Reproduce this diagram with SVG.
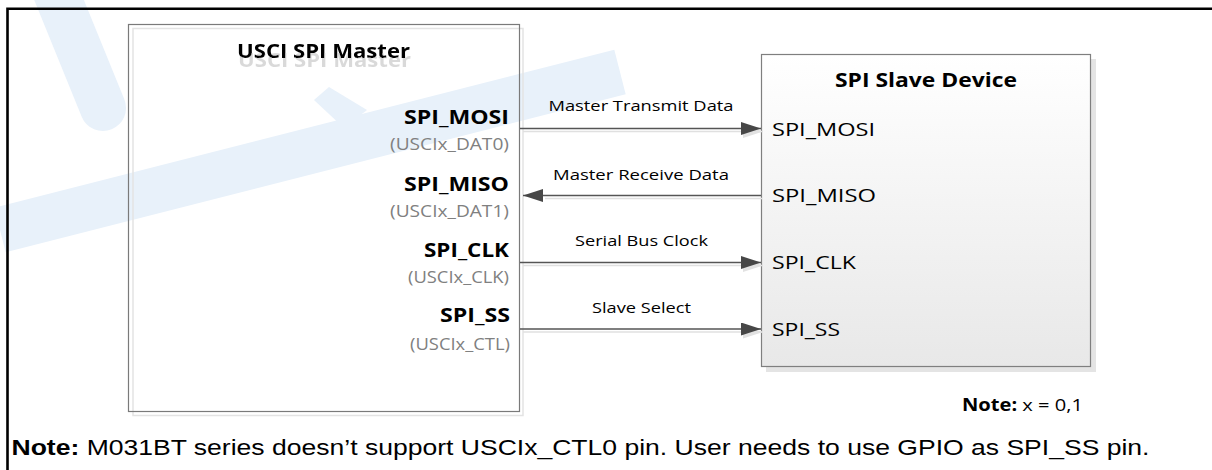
<svg xmlns="http://www.w3.org/2000/svg" width="1212" height="470" viewBox="0 0 1212 470">
<defs>
  <linearGradient id="slaveFill" x1="0" y1="0" x2="0" y2="1">
    <stop offset="0" stop-color="#ffffff"/>
    <stop offset="1" stop-color="#e8e8e8"/>
  </linearGradient>
  <marker id="ah" markerWidth="20" markerHeight="13" refX="20" refY="6.5" orient="auto" markerUnits="userSpaceOnUse">
    <path d="M0,0 L20,6.5 L0,13 Z" fill="#474747"/>
  </marker>
  <marker id="ahs" markerWidth="20" markerHeight="13" refX="20" refY="6.5" orient="auto" markerUnits="userSpaceOnUse">
    <path d="M0,0 L20,6.5 L0,13 Z" fill="#e2e2e2"/>
  </marker>
  <filter id="ghost" x="-10%" y="-30%" width="120%" height="200%">
    <feOffset in="SourceAlpha" dx="1" dy="9" result="o"/>
    <feFlood flood-color="#d9d9d9"/>
    <feComposite in2="o" operator="in" result="s"/>
    <feMerge><feMergeNode in="s"/><feMergeNode in="SourceGraphic"/></feMerge>
  </filter>
</defs>
<style>
  .cal { font-family: "Open Sans", "Noto Sans", sans-serif; }
  .title { font-size: 20px; font-weight: 700; fill: #000; }
  .pin { font-size: 19px; font-weight: 700; fill: #000; }
  .sub { font-size: 15.5px; fill: #808080; }
  .sig { font-size: 15px; fill: #000; }
  .spin { font-size: 19px; fill: #000; }
  .wire { stroke: #555555; stroke-width: 1.3; fill: none; }
  .wsh { stroke: #e0e0e0; stroke-width: 1.5; fill: none; }
  .ari { font-family: "Liberation Sans", Arial, sans-serif; }
  .wm { stroke: #e8f1fa; fill: none; }
</style>
<rect x="0" y="0" width="1212" height="470" fill="#ffffff"/>

<!-- faint background watermark -->
<g id="watermark">
  <path class="wm" d="M55,-10 L103,108" stroke-width="46" stroke-linecap="round"/>
  <path class="wm" d="M0,230 L620,72" stroke-width="46"/>
  <path d="M329,87 L367,110 L344,128 L314,100 Z" fill="#e8f1fa"/>
</g>

<!-- frame -->
<path d="M7.5,470 V8.7 H1212" fill="none" stroke="#000" stroke-width="2.6"/>

<!-- master node -->
<g id="master">
  <rect x="133" y="28.5" width="390" height="387" fill="none" stroke="#e3e3e3" stroke-width="1.5"/>
  <rect x="128.5" y="24.5" width="391" height="387" fill="none" stroke="#7a7a7a" stroke-width="1.2"/>
  <text class="cal title" x="323.5" y="58" text-anchor="middle" filter="url(#ghost)" textLength="173" lengthAdjust="spacingAndGlyphs">USCI SPI Master</text>
  <text class="cal pin" x="509" y="124" text-anchor="end" textLength="105" lengthAdjust="spacingAndGlyphs">SPI_MOSI</text>
  <text class="cal sub" x="509" y="150" text-anchor="end" textLength="119" lengthAdjust="spacingAndGlyphs">(USCIx_DAT0)</text>
  <text class="cal pin" x="509" y="191" text-anchor="end" textLength="105" lengthAdjust="spacingAndGlyphs">SPI_MISO</text>
  <text class="cal sub" x="509" y="216.5" text-anchor="end" textLength="119" lengthAdjust="spacingAndGlyphs">(USCIx_DAT1)</text>
  <text class="cal pin" x="509" y="257" text-anchor="end" textLength="85" lengthAdjust="spacingAndGlyphs">SPI_CLK</text>
  <text class="cal sub" x="509" y="283" text-anchor="end" textLength="101" lengthAdjust="spacingAndGlyphs">(USCIx_CLK)</text>
  <text class="cal pin" x="510" y="322" text-anchor="end" textLength="70" lengthAdjust="spacingAndGlyphs">SPI_SS</text>
  <text class="cal sub" x="510" y="350" text-anchor="end" textLength="100" lengthAdjust="spacingAndGlyphs">(USCIx_CTL)</text>
</g>

<!-- slave node -->
<g id="slave">
  <rect x="766" y="59" width="330" height="313" fill="#e4e4e4"/>
  <rect x="761.5" y="54.5" width="329" height="312" fill="url(#slaveFill)" stroke="#7f7f7f" stroke-width="1.2"/>
  <text class="cal title" x="926" y="87" text-anchor="middle" textLength="182" lengthAdjust="spacingAndGlyphs">SPI  Slave Device</text>
  <text class="cal spin" x="772" y="136" textLength="103" lengthAdjust="spacingAndGlyphs">SPI_MOSI</text>
  <text class="cal spin" x="772" y="202" textLength="104" lengthAdjust="spacingAndGlyphs">SPI_MISO</text>
  <text class="cal spin" x="772" y="269" textLength="84" lengthAdjust="spacingAndGlyphs">SPI_CLK</text>
  <text class="cal spin" x="772" y="336" textLength="68" lengthAdjust="spacingAndGlyphs">SPI_SS</text>
</g>

<!-- connectors -->
<g id="connectors">
  <path class="wsh" d="M523,131.5 H763" marker-end="url(#ahs)"/>
  <path class="wire" d="M520,128.5 H761" marker-end="url(#ah)"/>
  <text class="cal sig" x="641" y="110.5" text-anchor="middle" textLength="185" lengthAdjust="spacingAndGlyphs">Master Transmit Data</text>

  <path class="wsh" d="M762,198.5 H545"/>
  <path class="wire" d="M761,195.5 H523" marker-end="url(#ah)"/>
  <text class="cal sig" x="641" y="180" text-anchor="middle" textLength="176" lengthAdjust="spacingAndGlyphs">Master Receive Data</text>

  <path class="wsh" d="M523,265.5 H763" marker-end="url(#ahs)"/>
  <path class="wire" d="M520,262.5 H761" marker-end="url(#ah)"/>
  <text class="cal sig" x="641.5" y="246" text-anchor="middle" textLength="133" lengthAdjust="spacingAndGlyphs">Serial Bus Clock</text>

  <path class="wsh" d="M523,332 H763" marker-end="url(#ahs)"/>
  <path class="wire" d="M520,329 H761" marker-end="url(#ah)"/>
  <text class="cal sig" x="641.5" y="313" text-anchor="middle" textLength="99" lengthAdjust="spacingAndGlyphs">Slave Select</text>
</g>

<!-- notes -->
<g id="notes">
  <text class="cal" x="962" y="411" font-size="17" fill="#000" textLength="121" lengthAdjust="spacingAndGlyphs"><tspan font-weight="700">Note:</tspan> x = 0,1</text>
  <text class="ari" x="11.5" y="454.5" font-size="22" fill="#000" textLength="1138" lengthAdjust="spacingAndGlyphs"><tspan font-weight="700">Note:</tspan> M031BT series doesn’t support USCIx_CTL0 pin. User needs to use GPIO as SPI_SS pin.</text>
</g>
</svg>
